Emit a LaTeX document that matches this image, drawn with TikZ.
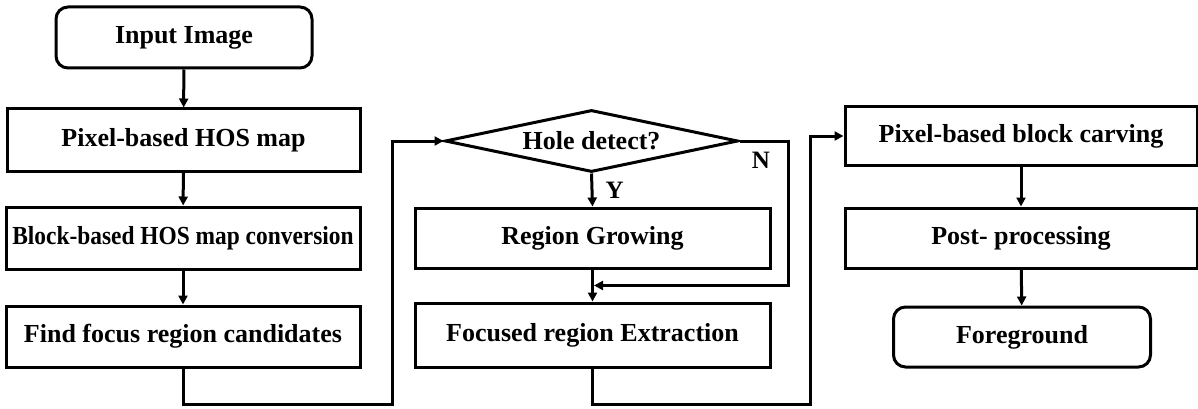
\documentclass[tikz,border=0pt]{standalone}
\usepackage{fontspec}
\usepackage{graphicx}
\setmainfont{Liberation Serif}
\usetikzlibrary{arrows.meta,shapes.geometric,calc}
\begin{document}
\begin{tikzpicture}[x=1pt,y=-1pt,
  every node/.style={font=\bfseries\fontsize{26}{28}\selectfont, inner sep=0pt},
  proc/.style={draw, line width=3pt, rectangle, minimum height=#1},
  proc/.default=62pt,
  term/.style={draw, line width=3pt, rectangle, rounded corners=12pt, minimum height=60pt},
  dec/.style={draw, line width=3pt, diamond, aspect=4.7, minimum width=293pt, minimum height=62pt},
  conn/.style={line width=3pt, -{Triangle[length=9pt,width=9pt]}},
  lbl/.style={font=\bfseries\fontsize{25}{27}\selectfont}]
\useasboundingbox (0,0) rectangle (1198,409);
% left column
\node[term, minimum width=256pt, minimum height=61pt] (in) at (184,37.5) {Input Image};
\node[proc, minimum width=353pt] (pix) at (183.5,140) {Pixel-based HOS map};
\node[proc, minimum width=354pt] (blk) at (183,238) {\scalebox{0.9}[1]{Block-based HOS map conversion}};
\node[proc=61pt, minimum width=354pt] (ffr) at (183,336.5) {Find focus region candidates};
% middle column
\node[dec] (d) at (591.5,141) {Hole detect?};
\node[proc=60pt, minimum width=355pt] (rg) at (592.5,238) {Region Growing};
\node[proc=64pt, minimum width=355pt] (fre) at (592.5,335) {Focused region Extraction};
% right column
\node[proc=58pt, minimum width=352pt] (pbc) at (1021,136) {Pixel-based block carving};
\node[proc=60pt, minimum width=352pt] (pp) at (1021,238) {Post- processing};
\node[term, minimum width=257pt] (fg) at (1022,337) {Foreground};
% helper coordinates
\coordinate (c1) at (392,404);
\coordinate (c2) at (810,404);
\coordinate (nr) at (788,141);
\coordinate (m) at ($(rg.south)!0.5!(fre.north)$);
% connectors
\draw[conn] (in) -- (pix);
\draw[conn] (pix) -- (blk);
\draw[conn] (blk) -- (ffr);
\draw[conn] (ffr.south) |- (c1) |- (d.west);
\draw[conn] (d.south) -- node[lbl, right=12pt, pos=0.5] (ylab) {Y} (rg.north);
\draw[conn, shorten >=1.5pt] (d.east) -- (nr) |- (m);
\node[lbl] (nlab) at (761,160) {N};
\draw[conn] (rg) -- (fre);
\draw[conn] (fre.south) |- (c2) |- (pbc.west);
\draw[conn] (pbc) -- (pp);
\draw[conn] (pp) -- (fg);
\end{tikzpicture}
\end{document}
